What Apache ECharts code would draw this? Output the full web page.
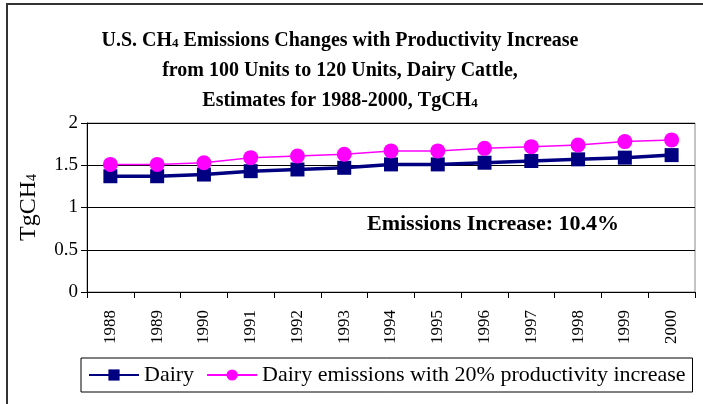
<!DOCTYPE html>
<html>
<head>
<meta charset="utf-8">
<script src="https://cdn.jsdelivr.net/npm/echarts@6/dist/echarts.min.js"></script>
<style>
    html, body { margin: 0; padding: 0; background: #fff; }
    #chart { width: 703px; height: 404px; }
</style>
</head>
<body>
<div id="chart"></div>
<script>
const SERIF = '"Liberation Serif", "Times New Roman", serif';

const years = ['1988', '1989', '1990', '1991', '1992', '1993', '1994', '1995', '1996', '1997', '1998', '1999', '2000'];
const dairy = [1.37, 1.37, 1.39, 1.43, 1.45, 1.47, 1.51, 1.51, 1.53, 1.55, 1.57, 1.59, 1.62];
const dairyProductivity = [1.51, 1.51, 1.53, 1.59, 1.61, 1.63, 1.67, 1.67, 1.70, 1.72, 1.74, 1.78, 1.80];
const yTicks = { min: 0, max: 2, interval: 0.5 };

const chart = echarts.init(document.getElementById('chart'));
chart.setOption({
    backgroundColor: '#fff',
    animation: false,
    title: {
        text: '{b|U.S. CH}{s|4}{b| Emissions Changes with Productivity Increase}\n' +
            '{b|from 100 Units to 120 Units, Dairy Cattle,}\n' +
            '{b|Estimates for 1988-2000, TgCH}{s|4}',
        left: 340,
        top: 26,
        textAlign: 'center',
        padding: 0,
        textStyle: {
            rich: {
                b: { fontFamily: SERIF, fontSize: 20, fontWeight: 'bold', color: '#000', lineHeight: 30 },
                s: { fontFamily: SERIF, fontSize: 13, fontWeight: 'bold', color: '#000', lineHeight: 13, padding: [5, 0, 0, 0] }
            }
        }
    },
    legend: {
        left: 81,
        top: 358,
        padding: [6, 7, 6, 7],
        borderColor: '#000',
        borderWidth: 1,
        itemWidth: 50,
        itemHeight: 14,
        itemGap: 12,
        textStyle: { fontFamily: SERIF, fontSize: 22, color: '#000' },
        data: ['Dairy', 'Dairy emissions with 20% productivity increase']
    },
    grid: {
        left: 87,
        top: 123,
        right: 8,
        bottom: 112,
        show: true,
        borderColor: '#888',
        borderWidth: 1
    },
    xAxis: {
        type: 'category',
        data: years,
        boundaryGap: true,
        axisLine: { lineStyle: { color: '#000', width: 1 } },
        axisTick: { show: true, length: 6, lineStyle: { color: '#000' } },
        axisLabel: {
            rotate: 90,
            margin: 18,
            fontFamily: SERIF,
            fontSize: 17,
            color: '#000',
            interval: 0
        }
    },
    yAxis: {
        type: 'value',
        min: yTicks.min,
        max: yTicks.max,
        interval: yTicks.interval,
        name: 'TgCH{s|4}',
        nameLocation: 'middle',
        nameGap: 44,
        nameTextStyle: {
            fontFamily: SERIF,
            fontSize: 24,
            lineHeight: 28,
            color: '#000',
            rich: {
                s: { fontFamily: SERIF, fontSize: 14, color: '#000', lineHeight: 14, padding: [6, 0, 0, 0] }
            }
        },
        axisLine: { show: true, lineStyle: { color: '#000', width: 1 } },
        axisTick: { show: true, length: 6, lineStyle: { color: '#000' } },
        axisLabel: { margin: 9, fontFamily: SERIF, fontSize: 19, color: '#000' },
        splitLine: { show: true, lineStyle: { color: '#000', width: 1 } }
    },
    graphic: [
        {
            type: 'rect',
            shape: { x: 7, y: 4, width: 720, height: 440 },
            style: { fill: 'none', stroke: '#333', lineWidth: 2 },
            silent: true
        },
        {
            type: 'text',
            left: 367,
            top: 213,
            style: {
                text: 'Emissions Increase: 10.4%',
                font: 'bold 22px ' + SERIF,
                fill: '#000'
            }
        }
    ],
    series: [
        {
            name: 'Dairy',
            type: 'line',
            data: dairy,
            symbol: 'rect',
            symbolSize: 14,
            lineStyle: { color: '#000080', width: 3.5 },
            itemStyle: { color: '#000080' }
        },
        {
            name: 'Dairy emissions with 20% productivity increase',
            type: 'line',
            data: dairyProductivity,
            symbol: 'circle',
            symbolSize: 15,
            lineStyle: { color: '#ff00ff', width: 1.5 },
            itemStyle: { color: '#ff00ff' }
        }
    ]
});
</script>
</body>
</html>
